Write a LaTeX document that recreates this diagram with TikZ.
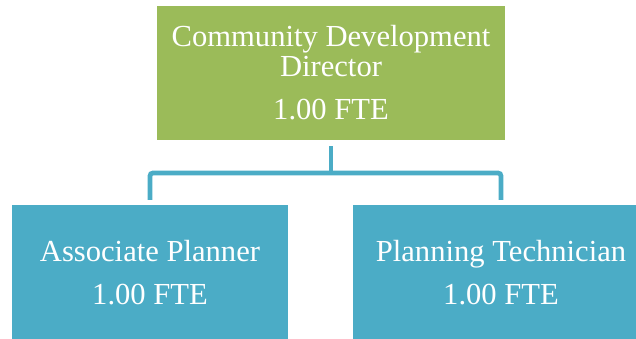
\documentclass[tikz,border=0pt]{standalone}
\usepackage{fontspec}
\setmainfont{Liberation Serif}
\usetikzlibrary{positioning}
\definecolor{chartgreen}{RGB}{155,187,89}
\definecolor{chartteal}{RGB}{75,172,198}

\begin{document}
\begin{tikzpicture}[x=1pt, y=1pt,
    orgbox/.style={rectangle, text=white, align=center, inner sep=0pt,
        font=\fontsize{30.6}{30}\selectfont},
    link/.style={draw=chartteal, line width=4.8pt}]
    % Frame
    \useasboundingbox (0,0) rectangle (636,339);
    \clip (0,0) rectangle (636,339);

    % Boxes
    \node[orgbox, fill=chartgreen, minimum width=348pt, minimum height=134pt] (director) at (331,266) {Community Development\\Director\\[13pt]1.00 FTE};
    \node[orgbox, fill=chartteal, minimum width=276pt, minimum height=136pt] (associate) at (150,66) {Associate Planner\\[13pt]1.00 FTE};
    \node[orgbox, fill=chartteal, minimum width=296pt, minimum height=136pt] (technician) at (501,66) {Planning Technician\\[13pt]1.00 FTE};

    % Connectors
    \coordinate (bus) at (331,166);
    \draw[link] ([yshift=-6pt]director.south) -- (bus);
    \draw[link, rounded corners=3pt] ([yshift=5pt]associate.north) |- (bus) -| ([yshift=5pt]technician.north);
\end{tikzpicture}
\end{document}
